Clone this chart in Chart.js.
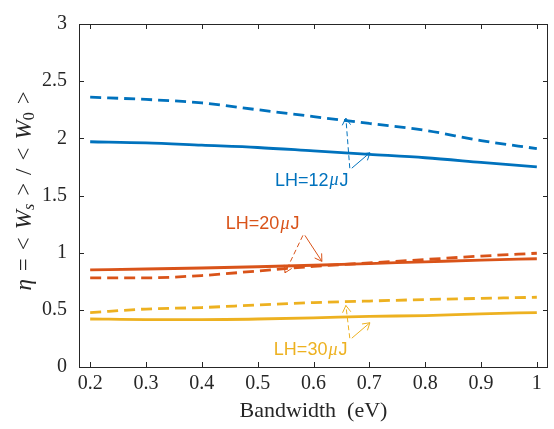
<!DOCTYPE html>
<html lang="en">
<head>
<meta charset="UTF-8">
<title>Bandwidth ratio</title>
<script src="https://cdn.jsdelivr.net/npm/chart.js@4.4.0/dist/chart.umd.min.js"></script>
<style>
  html, body { margin: 0; padding: 0; background: #fff; }
  #wrap { width: 554px; height: 429px; }
</style>
</head>
<body>
<div id="wrap"><canvas id="chart" width="554" height="429"></canvas></div>
<script>
// values
const bandwidth = [0.2, 0.3, 0.4, 0.5, 0.6, 0.7, 0.8, 0.9, 1.0];
const lh12Solid  = [1.97, 1.96, 1.94, 1.92, 1.89, 1.86, 1.83, 1.79, 1.75];
const lh12Dashed = [2.36, 2.34, 2.31, 2.25, 2.19, 2.13, 2.07, 1.98, 1.91];
const lh20Solid  = [0.85, 0.857, 0.866, 0.877, 0.89, 0.905, 0.92, 0.935, 0.947];
const lh20Dashed = [0.78, 0.78, 0.80, 0.84, 0.88, 0.91, 0.94, 0.97, 0.995];
const lh30Solid  = [0.42, 0.415, 0.415, 0.42, 0.43, 0.443, 0.45, 0.465, 0.476];
const lh30Dashed = [0.476, 0.507, 0.52, 0.543, 0.563, 0.577, 0.59, 0.60, 0.61];
const xTicks = [0.2, 0.3, 0.4, 0.5, 0.6, 0.7, 0.8, 0.9, 1];
const yTicks = [0, 0.5, 1, 1.5, 2, 2.5, 3];

const BLUE = '#0072BD', ORANGE = '#D95319', YELLOW = '#EDB120';
const AXIS = '#262626';
const SERIF = "'Liberation Serif', 'Times New Roman', serif";

// text arrows, in data units
const notes = [
  { text: 'LH=12', color: BLUE,   tx: 0.531, ty: 1.63,
    tail: [0.665, 1.739], tipDash: [0.658, 2.176], tipSolid: [0.701, 1.874] },
  { text: 'LH=20', color: ORANGE, tx: 0.443, ty: 1.25,
    tail: [0.581, 1.151], tipDash: [0.549, 0.824], tipSolid: [0.615, 0.924] },
  { text: 'LH=30', color: YELLOW, tx: 0.529, ty: 0.15,
    tail: [0.665, 0.252], tipDash: [0.658, 0.538], tipSolid: [0.701, 0.387] }
];

function pts(ys) {
  return bandwidth.map((x, i) => ({ x: x, y: ys[i] }));
}

function series(ys, color, dashed) {
  return {
    data: pts(ys),
    borderColor: color,
    borderWidth: 2.8,
    borderDash: dashed ? [11, 6] : [],
    pointRadius: 0,
    fill: false,
    cubicInterpolationMode: 'monotone'
  };
}

function arrow(ctx, x0, y0, x1, y1, dash) {
  ctx.save();
  ctx.setLineDash(dash ? [5, 3] : []);
  ctx.beginPath();
  ctx.moveTo(x0, y0);
  ctx.lineTo(x1, y1);
  ctx.stroke();
  ctx.setLineDash([]);
  const a = Math.atan2(y1 - y0, x1 - x0);
  const len = 8, spread = 0.55;
  ctx.beginPath();
  ctx.moveTo(x1 - len * Math.cos(a - spread), y1 - len * Math.sin(a - spread));
  ctx.lineTo(x1, y1);
  ctx.lineTo(x1 - len * Math.cos(a + spread), y1 - len * Math.sin(a + spread));
  ctx.stroke();
  ctx.restore();
}

const boxPlugin = {
  id: 'boxPlugin',
  afterDraw(chart) {
    const ctx = chart.ctx;
    const a = chart.chartArea;
    const xs = chart.scales.x, ys = chart.scales.y;
    ctx.save();
    ctx.strokeStyle = AXIS;
    ctx.lineWidth = 1;
    ctx.strokeRect(Math.round(a.left) + 0.5, Math.round(a.top) + 0.5,
                   Math.round(a.right - a.left) - 1, Math.round(a.bottom - a.top));
    ctx.beginPath();
    xTicks.forEach(v => {
      const p = Math.round(xs.getPixelForValue(v)) + 0.5;
      ctx.moveTo(p, a.bottom); ctx.lineTo(p, a.bottom - 5);
      ctx.moveTo(p, a.top); ctx.lineTo(p, a.top + 5);
    });
    yTicks.forEach(v => {
      const p = Math.round(ys.getPixelForValue(v)) + 0.5;
      ctx.moveTo(a.left, p); ctx.lineTo(a.left + 5, p);
      ctx.moveTo(a.right, p); ctx.lineTo(a.right - 5, p);
    });
    ctx.stroke();

    // x axis title
    ctx.fillStyle = AXIS;
    ctx.font = '22px ' + SERIF;
    ctx.textAlign = 'center';
    ctx.textBaseline = 'middle';
    ctx.fillText('Bandwidth  (eV)', (a.left + a.right) / 2, 411);

    // y axis title, drawn piece by piece for the subscripts
    const parts = [
      ['italic 23px ' + SERIF, '\u03b7', 0],
      ['23px ' + SERIF, '=', 0],
      ['23px ' + SERIF, '<', 0],
      ['italic 23px ' + SERIF, 'W', 0],
      ['italic 16px ' + SERIF, 's', 5],
      ['23px ' + SERIF, '>', 0],
      ['23px ' + SERIF, '/', 0],
      ['23px ' + SERIF, '<', 0],
      ['italic 23px ' + SERIF, 'W', 0],
      ['16px ' + SERIF, '0', 5],
      ['23px ' + SERIF, '>', 0]
    ];
    const glue = [8, 8, 8, 0, 8, 8, 8, 8, 0, 8];
    let total = 0;
    parts.forEach(p => { ctx.font = p[0]; total += ctx.measureText(p[1]).width; });
    glue.forEach(g => { total += g; });
    ctx.translate(25, 191);
    ctx.rotate(-Math.PI / 2);
    ctx.textAlign = 'left';
    let cx = -total / 2;
    parts.forEach((p, i) => {
      ctx.font = p[0];
      ctx.fillText(p[1], cx, p[2]);
      cx += ctx.measureText(p[1]).width + (i < glue.length ? glue[i] : 0);
    });
    ctx.restore();
  }
};

const notePlugin = {
  id: 'notePlugin',
  afterDatasetsDraw(chart) {
    const ctx = chart.ctx;
    const xs = chart.scales.x, ys = chart.scales.y;
    notes.forEach(n => {
      ctx.save();
      ctx.strokeStyle = n.color;
      ctx.fillStyle = n.color;
      ctx.lineWidth = 1;
      const t0 = xs.getPixelForValue(n.tail[0]), t1 = ys.getPixelForValue(n.tail[1]);
      arrow(ctx, t0, t1, xs.getPixelForValue(n.tipDash[0]), ys.getPixelForValue(n.tipDash[1]), true);
      arrow(ctx, t0 + 2, t1, xs.getPixelForValue(n.tipSolid[0]), ys.getPixelForValue(n.tipSolid[1]), false);
      ctx.textBaseline = 'middle';
      ctx.textAlign = 'left';
      let px = xs.getPixelForValue(n.tx);
      const py = ys.getPixelForValue(n.ty);
      ctx.font = "18px 'Liberation Sans', Arial, sans-serif";
      ctx.fillText(n.text, px, py);
      px += ctx.measureText(n.text).width + 1;
      ctx.font = 'italic 18px ' + SERIF;
      ctx.fillText('\u03bc', px, py);
      px += ctx.measureText('\u03bc').width + 1;
      ctx.font = "18px 'Liberation Sans', Arial, sans-serif";
      ctx.fillText('J', px, py);
      ctx.restore();
    });
  }
};

new Chart(document.getElementById('chart'), {
  type: 'line',
  data: {
    datasets: [
      series(lh12Solid, BLUE, false),
      series(lh12Dashed, BLUE, true),
      series(lh20Solid, ORANGE, false),
      series(lh20Dashed, ORANGE, true),
      series(lh30Solid, YELLOW, false),
      series(lh30Dashed, YELLOW, true)
    ]
  },
  options: {
    responsive: false,
    animation: false,
    devicePixelRatio: 1,
    layout: { padding: { left: 0, top: 10, right: 6, bottom: 0 } },
    plugins: { legend: { display: false }, tooltip: { enabled: false } },
    scales: {
      x: {
        type: 'linear',
        min: 0.18,
        max: 1.02,
        afterBuildTicks: s => { s.ticks = xTicks.map(v => ({ value: v })); },
        afterFit: s => { s.height = 62; },
        grid: { display: false, drawTicks: false },
        border: { display: false },
        ticks: {
          color: AXIS,
          padding: 5,
          maxRotation: 0,
          autoSkip: false,
          callback: v => String(v),
          font: { family: SERIF, size: 20 }
        }
      },
      y: {
        min: 0,
        max: 3,
        afterBuildTicks: s => { s.ticks = yTicks.map(v => ({ value: v })); },
        afterFit: s => { s.width = 79; },
        grid: { display: false, drawTicks: false },
        border: { display: false },
        ticks: {
          color: AXIS,
          padding: 12,
          callback: v => String(v),
          font: { family: SERIF, size: 20 }
        }
      }
    }
  },
  plugins: [boxPlugin, notePlugin]
});
</script>
</body>
</html>
